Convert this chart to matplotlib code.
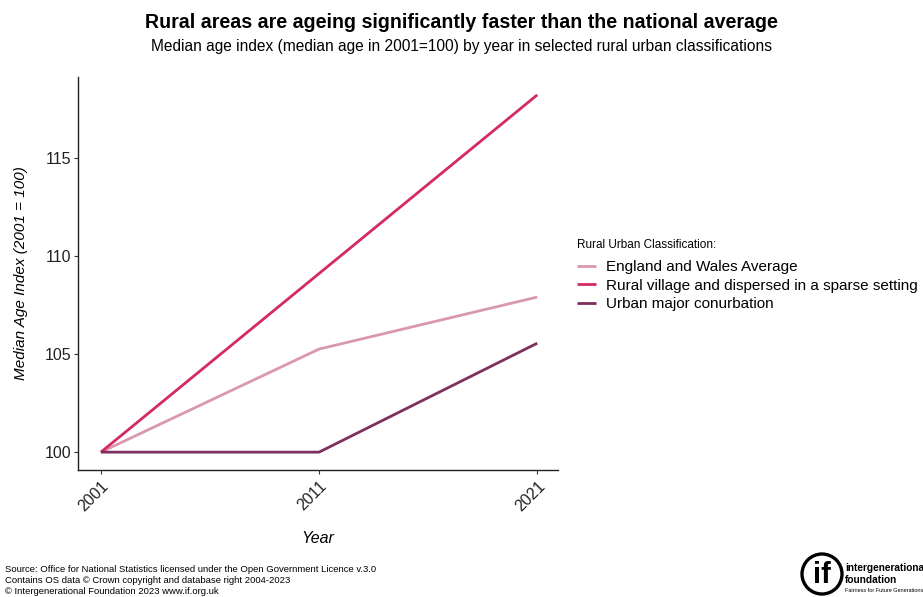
import matplotlib
matplotlib.use("Agg")
import matplotlib.pyplot as plt
from matplotlib.patches import Ellipse

plt.rcParams['font.family'] = ['Liberation Sans', 'DejaVu Sans']

years = [2001, 2011, 2021]
avg_vals = [100.0, 105.25, 107.9]
rural_vals = [100.0, 109.1, 118.2]
urban_vals = [100.0, 100.0, 105.55]
series_names = ["England and Wales Average",
                "Rural village and dispersed in a sparse setting",
                "Urban major conurbation"]
colors = ["#D998B0", "#D42A5E", "#7D2F5E"]
yticks = [100, 105, 110, 115]

W, H = 923, 597
fig = plt.figure(figsize=(W/100, H/100), dpi=100)
ax = fig.add_axes([78/W, 1-470/H, (558-78)/W, (470-77)/H])

for vals, name, c in zip([avg_vals, rural_vals, urban_vals], series_names, colors):
    ax.plot(years, vals, color=c, lw=2.0, label=name, solid_capstyle='butt')

ax.set_xlim(1999.95, 2021.95)
ax.set_ylim(99.09, 119.11)
ax.set_xticks(years)
ax.set_xticklabels([str(y) for y in years], rotation=45, ha='right', rotation_mode='anchor', fontsize=11.5, color='#222222')
ax.set_yticks(yticks)
ax.set_yticklabels([str(v) for v in yticks], fontsize=11.5, color='#222222')
ax.tick_params(axis='both', length=3, width=0.8, color='#333333', pad=2)
ax.tick_params(axis='x', pad=3)
for s in ['top', 'right']:
    ax.spines[s].set_visible(False)
for s in ['left', 'bottom']:
    ax.spines[s].set_linewidth(1.0)
    ax.spines[s].set_color('#222222')

ax.set_xlabel("Year", fontsize=11.5, style='italic', labelpad=12)
ax.set_ylabel("Median Age Index (2001 = 100)", fontsize=11, style='italic', labelpad=12)

leg = fig.legend(loc='upper left', bbox_to_anchor=(572/W, 1-234/H), frameon=False,
                 title="Rural Urban Classification:", title_fontsize=8.5, fontsize=11,
                 handlelength=1.3, handletextpad=0.6, labelspacing=0.28, borderaxespad=0,
                 borderpad=0.3)
leg._legend_box.align = "left"
leg._legend_box.sep = 7

fig.text(0.5, 1-22/H, "Rural areas are ageing significantly faster than the national average",
         ha='center', va='center', fontsize=14.1, fontweight='bold')
fig.text(0.5, 1-46/H, "Median age index (median age in 2001=100) by year in selected rural urban classifications",
         ha='center', va='center', fontsize=11.2)

foot = ["Source: Office for National Statistics licensed under the Open Government Licence v.3.0",
        "Contains OS data \u00a9 Crown copyright and database right 2004-2023",
        "\u00a9 Intergenerational Foundation 2023 www.if.org.uk"]
for i, t in enumerate(foot):
    fig.text(5/W, 1-(570+10.5*i)/H, t, ha='left', va='center', fontsize=6.8)

# logo
cx, cy = 822, 574
ell = Ellipse((cx/W, 1-cy/H), 40/W, 40/H, transform=fig.transFigure, fill=False, lw=2.4, color='black')
fig.patches.append(ell)
fig.text(cx/W, 1-(cy+1)/H, "if", ha='center', va='center', fontsize=21, fontweight='bold')
fig.text(845/W, 1-568/H, "intergenerational", ha='left', va='center', fontsize=7.3, fontweight='bold')
fig.text(845/W, 1-580/H, "foundation", ha='left', va='center', fontsize=7.3, fontweight='bold')
fig.text(845/W, 1-591/H, "Fairness for Future Generations", ha='left', va='center', fontsize=4)

fig.savefig("out.png", dpi=100)
